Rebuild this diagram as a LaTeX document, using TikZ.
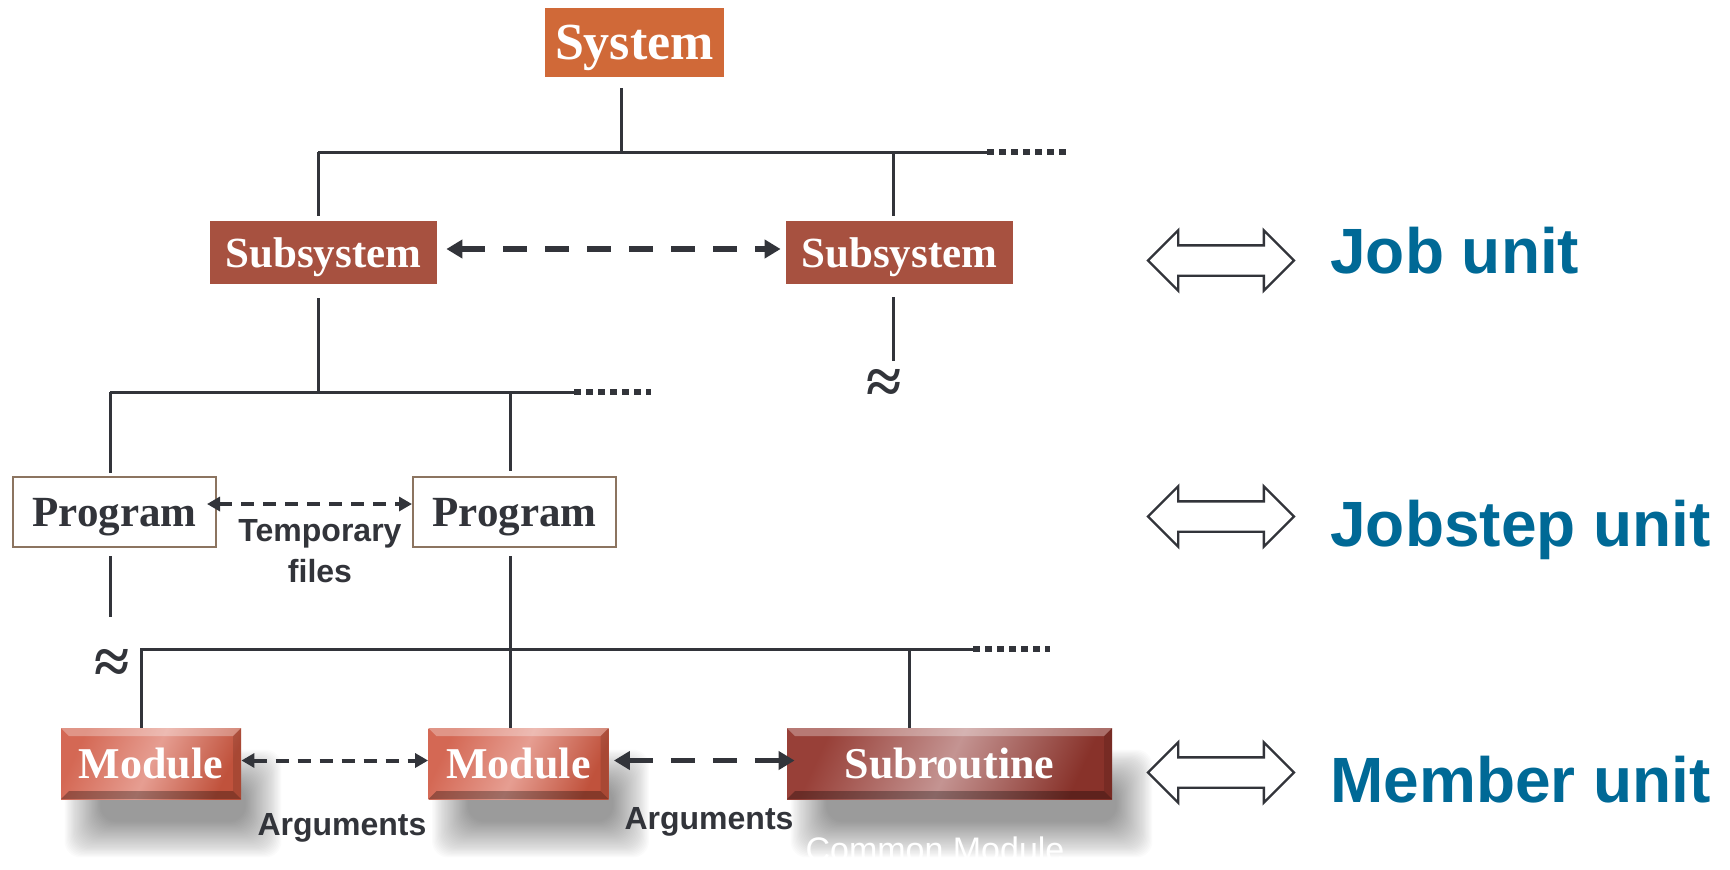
\documentclass[tikz,border=0pt]{standalone}
\usepackage{fontspec}
\setmainfont{Liberation Serif}
\setsansfont{Liberation Sans}
\usepackage{tikz}
\usetikzlibrary{arrows.meta, positioning, shapes.arrows, backgrounds}

\definecolor{sysorange}{RGB}{208,105,56}
\definecolor{subbrown}{RGB}{167,81,64}
\definecolor{progframe}{RGB}{140,116,96}
\definecolor{ink}{RGB}{50,52,58}
\definecolor{unitblue}{RGB}{0,105,150}
\definecolor{modleft}{RGB}{212,104,84}
\definecolor{modmid}{RGB}{230,158,146}
\definecolor{modright}{RGB}{192,82,60}
\definecolor{rtnleft}{RGB}{152,64,56}
\definecolor{rtnmid}{RGB}{196,148,146}
\definecolor{rtnright}{RGB}{136,50,42}

% soft shadow under a member box
\newcommand{\softshadow}[1]{%
  \foreach \k in {0,...,30}
    \fill [black, opacity=0.014, rounded corners=8pt]
      ([shift={(2pt+\k*0.6pt,-29pt+\k*0.6pt)}]#1.south west) rectangle
      ([shift={(20pt-\k*0.6pt,-11pt-\k*0.6pt)}]#1.north east);}

\begin{document}
\begin{tikzpicture} [x=0.5pt, y=0.5pt, ink,
	box/.style = {inner sep=0pt, text depth=0pt, text=white, font=\bfseries\fontsize{21.5pt}{26pt}\selectfont},
	sysbox/.style = {box, fill=sysorange, minimum width=89.5pt, minimum height=34.5pt, font=\bfseries\fontsize{26pt}{30pt}\selectfont},
	subbox/.style = {box, fill=subbrown, minimum width=113.5pt, minimum height=31.5pt},
	progbox/.style = {inner sep=0pt, text depth=0pt, draw=progframe, line width=1pt, fill=white, text=ink, minimum width=101.5pt, minimum height=35pt, font=\bfseries\fontsize{21.5pt}{25pt}\selectfont},
	bevel/.style = {path picture={
		\fill [white, opacity=0.3] (path picture bounding box.north west) -- (path picture bounding box.north east)
			-- ([shift={(-4pt,-4pt)}]path picture bounding box.north east) -- ([shift={(4pt,-4pt)}]path picture bounding box.north west) -- cycle;
		\fill [black, opacity=0.3] (path picture bounding box.south west) -- (path picture bounding box.south east)
			-- ([shift={(-4pt,4pt)}]path picture bounding box.south east) -- ([shift={(4pt,4pt)}]path picture bounding box.south west) -- cycle;
		\fill [black, opacity=0.12] (path picture bounding box.north east) -- (path picture bounding box.south east)
			-- ([shift={(-4pt,4pt)}]path picture bounding box.south east) -- ([shift={(-4pt,-4pt)}]path picture bounding box.north east) -- cycle;}},
	membox/.style = {box, bevel, minimum height=35.5pt, font=\bfseries\fontsize{22pt}{26pt}\selectfont},
	modbox/.style = {membox, left color=modleft, right color=modright, middle color=modmid, shading angle=65, minimum width=90pt},
	rtnbox/.style = {membox, left color=rtnleft, right color=rtnright, middle color=rtnmid, shading angle=65, minimum width=162.5pt},
	tree/.style = {line width=1.5pt},
	dots/.style = {line width=3pt, dash pattern=on 3.5pt off 2.5pt},
	biglink/.style = {line width=2.8pt, dash pattern=on 12pt off 9pt, arrows={Triangle[length=8pt, width=9pt]-Triangle[length=8pt, width=9pt]}},
	smalllink/.style = {line width=2pt, dash pattern=on 6.5pt off 4.5pt, arrows={Triangle[length=6.5pt, width=7pt]-Triangle[length=6.5pt, width=7pt]}},
	note/.style = {inner sep=0pt, text=ink, font=\sffamily\bfseries\fontsize{16pt}{20.5pt}\selectfont},
	cut/.style = {inner sep=0pt, text=ink, font=\bfseries\fontsize{32pt}{36pt}\selectfont},
	unitarrow/.style = {double arrow, draw=ink, line width=1.2pt, fill=white, inner sep=0pt, inner ysep=7pt, minimum height=73pt, double arrow head extend=7.5pt},
	unit/.style = {inner sep=0pt, anchor=base west, text=unitblue, font=\sffamily\bfseries\fontsize{32pt}{38pt}\selectfont}]
	% Help frame
	\useasboundingbox (0,0) rectangle (1730,-869);

	% Boxes
	\node (sys) [sysbox] at (634.5,-42.5) {System};
	\node (subL) [subbox] at (323.5,-252.5) {Subsystem};
	\node (subR) [subbox] at (899.5,-252.5) {Subsystem};
	\node (progL) [progbox] at (114.5,-512) {Program};
	\node (progR) [progbox] at (514.5,-512) {Program};
	\node (mod1) [modbox] at (151,-763.5) {Module};
	\node (mod2) [modbox] at (518.5,-763.5) {Module};
	\node (rtn) [rtnbox] at (949.5,-763.5) {Subroutine};

	\begin{scope}[on background layer]
		\softshadow{mod1}
		\softshadow{mod2}
		\softshadow{rtn}
	\end{scope}

	% Bus points
	\coordinate (b1) at (621,-152);
	\coordinate (b1l) at (318,-152);
	\coordinate (b1r) at (893,-152);
	\coordinate (b1e) at (987,-152);
	\coordinate (b2) at (318,-392);
	\coordinate (b2l) at (110,-392);
	\coordinate (b2r) at (510,-392);
	\coordinate (b2e) at (574,-392);
	\coordinate (b3l) at (141,-649);
	\coordinate (b3r) at (909,-649);
	\coordinate (b3e) at (973,-649);

	% System => Subsystems
	\draw [tree, shorten <=5.5pt] (sys.south -| b1) -- (b1);
	\draw [tree] (b1l) -- (b1e);
	\draw [dots] (b1e) -- ++(81,0);
	\draw [tree, shorten >=2.5pt] (b1l) -- (subL.north -| b1l);
	\draw [tree, shorten >=2.5pt] (b1r) -- (subR.north -| b1r);
	\draw [tree, shorten <=6.5pt] (subR.south -| b1r) -- ++(0,-77);
	\node (cut1) [cut] at (884,-386) {≈};

	% Subsystem => Programs
	\draw [tree, shorten <=7pt] (subL.south -| b2) -- (b2);
	\draw [tree] (b2l) -- (b2e);
	\draw [dots] (b2e) -- ++(77,0);
	\draw [tree, shorten >=1.5pt] (b2l) -- (progL.north -| b2l);
	\draw [tree, shorten >=2.5pt] (b2r) -- (progR.north -| b2r);
	\draw [tree, shorten <=4pt] (progL.south -| b2l) -- ++(0,-69);
	\node (cut2) [cut] at (112,-666) {≈};

	% Program => Modules
	\draw [tree, shorten <=4pt] (progR.south -| b2r) -- (mod2.north -| b2r);
	\draw [tree] (mod1.north -| b3l) |- (b3e);
	\draw [dots] (b3e) -- ++(77,0);
	\draw [tree] (b3r) -- (rtn.north -| b3r);

	% Data links
	\path [biglink]
	([yshift=1.75pt]subL.east) edge [shorten <=4.5pt, shorten >=2.5pt] ([yshift=1.75pt]subR.west)
	([yshift=1.5pt]mod2.east) edge [shorten <=2.5pt, shorten >=-4pt] ([yshift=1.5pt]rtn.west);
	\path [smalllink]
	([xshift=-5pt, yshift=4pt]progL.east) edge ([yshift=4pt]progR.west)
	([yshift=1.5pt]mod1.east) edge ([yshift=1.5pt]mod2.west);

	\node (tmp) [note, align=center] at (320,-551) {Temporary\\files};
	\node (arg1) [note, anchor=base] at (342,-835) {Arguments};
	\node (arg2) [note, anchor=base] at (709,-829) {Arguments};
	\node (common) [inner sep=0pt, anchor=base, text=white, font=\sffamily\fontsize{17pt}{20pt}\selectfont] at (935,-861) {Common Module};

	% Unit levels
	\foreach \n/\ya/\yb/\t in {job/-260.5/-273/Job unit, step/-516.5/-546/Jobstep unit, mem/-772.5/-802/Member unit} {
		\node (arr\n) [unitarrow] at (1221,\ya) {};
		\node (lbl\n) [unit] at (1330,\yb) {\t};
	}
\end{tikzpicture}
\end{document}
